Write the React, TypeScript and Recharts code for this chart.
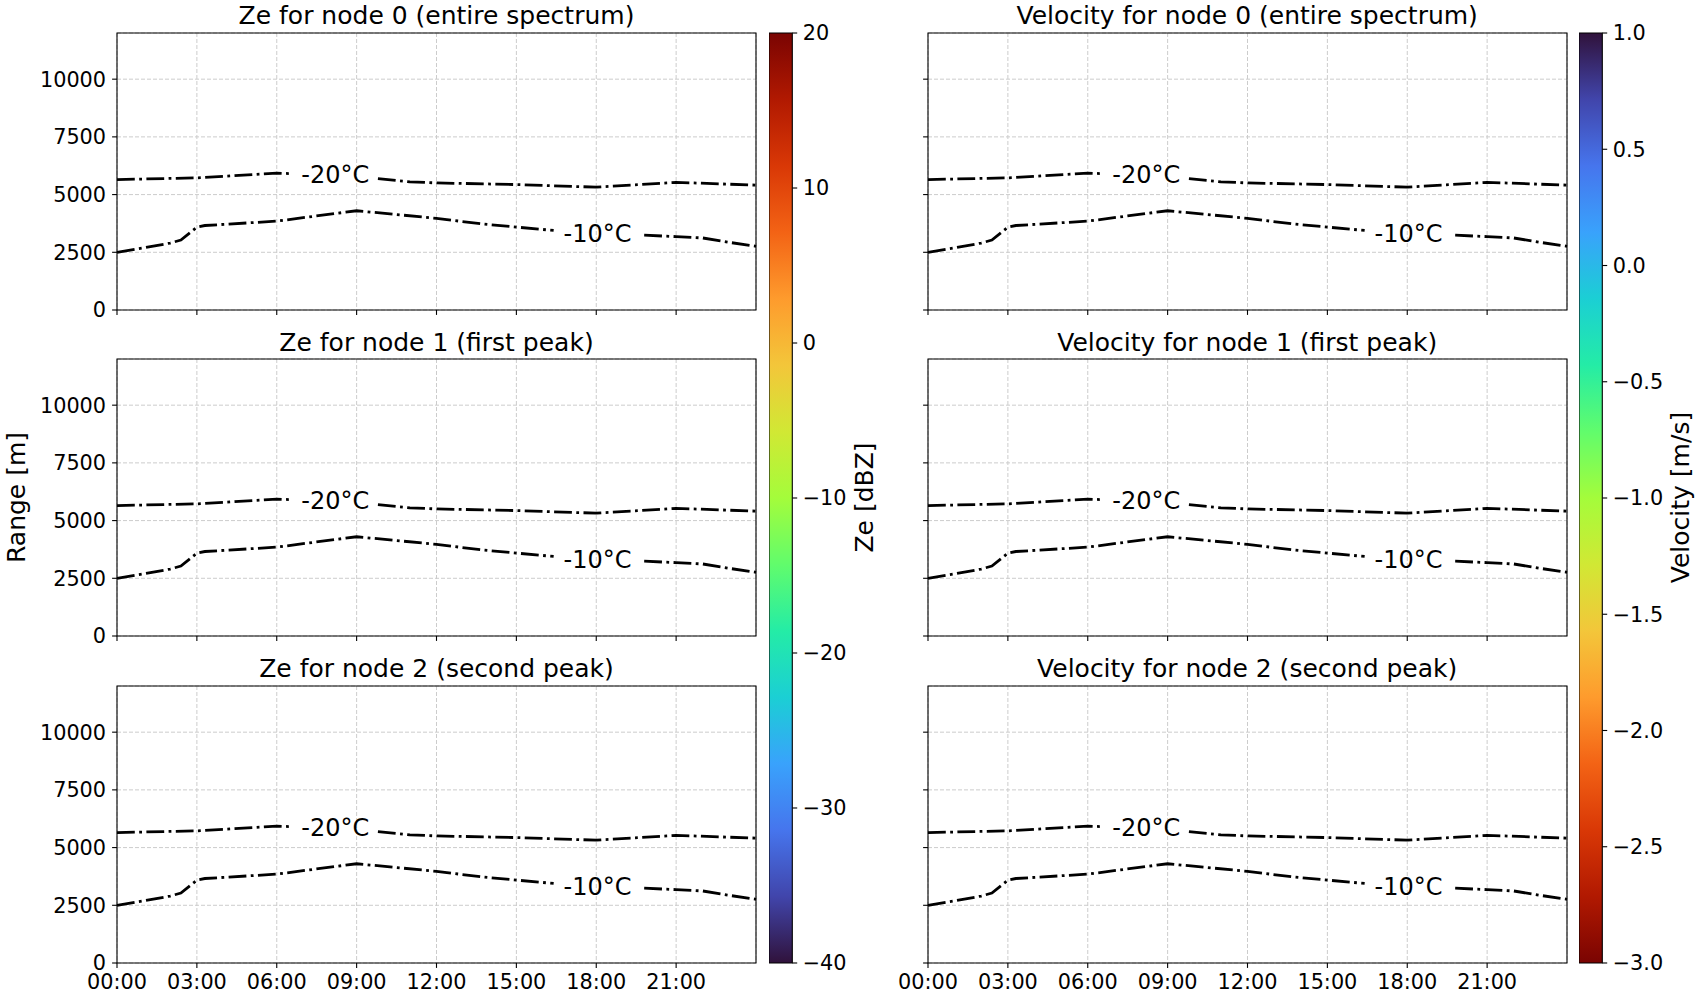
import React from 'react';
import { LineChart, Line, XAxis, YAxis, CartesianGrid, ReferenceArea, ReferenceDot, ComposedChart } from 'recharts';

const HOUR_TICKS = [0, 3, 6, 9, 12, 15, 18, 21];
const RANGE_TICKS = [0, 2500, 5000, 7500, 10000];
const ZE_TICKS = [-40, -30, -20, -10, 0, 10, 20];
const VEL_TICKS = [-3, -2.5, -2, -1.5, -1, -0.5, 0, 0.5, 1];

// -10°C isotherm (hours, metres); null leaves the gap for the inline label
const ISO10_T = [0, 1, 2, 2.4, 3, 3.3, 6, 9, 12, 13.7, 16.4, 18, 19.8, 21, 22, 23, 24];
const ISO10_H = [2500, 2690, 2900, 3030, 3590, 3660, 3850, 4300, 3970, 3730, 3445, null, 3240, 3180, 3120, 2930, 2760];

// -20°C isotherm
const ISO20_T = [0, 3, 6, 6.5, 8, 9.8, 11, 12, 15, 18, 21, 24];
const ISO20_H = [5650, 5725, 5930, 5910, null, 5690, 5550, 5505, 5435, 5320, 5530, 5410];

const ISO_LABEL_T = [8.2, 18.05];
const ISO_LABEL_H = [5870, 3333];
const ISO_LABEL_TEXT = ['-20°C', '-10°C'];

const ZE_TITLES = ['Ze for node 0 (entire spectrum)', 'Ze for node 1 (first peak)', 'Ze for node 2 (second peak)'];
const VEL_TITLES = ['Velocity for node 0 (entire spectrum)', 'Velocity for node 1 (first peak)', 'Velocity for node 2 (second peak)'];

const TURBO = ['#30123b', '#4145ab', '#4675ed', '#39a2fc', '#1bcfd4', '#24eca6', '#61fc6c', '#a4fc3b',
  '#d1e834', '#f3c63a', '#fe9b2d', '#f36315', '#d93806', '#b11901', '#7a0402'];

const iso10 = ISO10_T.map((t, i) => ({ t, h: ISO10_H[i] }));
const iso20 = ISO20_T.map((t, i) => ({ t, h: ISO20_H[i] }));

const FONT = 'DejaVu Sans, sans-serif';
const LEFT_X = 117;
const RIGHT_X = 927.7;
const PW = 639;
const PH = 277;
const ROW_Y = [32.5, 359, 685.5];
const MT = 5;
const MR = 5;
const XH = 45;
const TICK = { fill: '#000', fontSize: 20.8 };
const AXLINE = { stroke: '#000', strokeWidth: 1.1 };

const hhmm = (v: number) => `${String(v).padStart(2, '0')}:00`;
const blank = () => '';
const minus = (s: string) => s.replace('-', '\u2212');

const Panel = ({ x, y, showY, showX }: { x: number; y: number; showY: boolean; showX: boolean }) => {
  const yw = showY ? 117 : 50;
  return (
    <div style={{ position: 'absolute', left: x - yw, top: y - MT }}>
      <LineChart width={yw + PW + MR} height={MT + PH + XH} margin={{ top: MT, right: MR, bottom: 0, left: 0 }}>
        <CartesianGrid stroke="#cccccc" strokeDasharray="4 2" strokeWidth={1} />
        <XAxis
          type="number"
          dataKey="t"
          domain={[0, 24]}
          ticks={HOUR_TICKS}
          interval={0}
          height={XH}
          axisLine={false}
          tickLine={AXLINE}
          tickSize={4.9}
          tickMargin={6}
          tick={TICK}
          tickFormatter={showX ? hhmm : blank}
        />
        <YAxis
          type="number"
          domain={[0, 12000]}
          ticks={RANGE_TICKS}
          interval={0}
          width={yw}
          axisLine={false}
          tickLine={AXLINE}
          tickSize={4.9}
          tickMargin={6}
          tick={TICK}
          tickFormatter={showY ? undefined : blank}
        />
        <Line data={iso20} dataKey="h" type="linear" stroke="#000" strokeWidth={2.8}
          strokeDasharray="17.8 4.4 2.8 4.4" dot={false} isAnimationActive={false} connectNulls={false} />
        <Line data={iso10} dataKey="h" type="linear" stroke="#000" strokeWidth={2.8}
          strokeDasharray="17.8 4.4 2.8 4.4" dot={false} isAnimationActive={false} connectNulls={false} />
        {ISO_LABEL_T.map((t, i) => (
          <ReferenceDot key={i} x={t} y={ISO_LABEL_H[i]} r={0} fill="none" stroke="none"
            label={{ value: ISO_LABEL_TEXT[i], position: 'center', fontSize: 24, fill: '#000' }} />
        ))}
        <ReferenceArea x1={0} x2={24} y1={0} y2={12000} fill="none" stroke="#000" strokeWidth={1.1} />
      </LineChart>
    </div>
  );
};

const Colorbar = ({ x, id, stops, domain, ticks, fmt }: {
  x: number; id: string; stops: string[]; domain: [number, number]; ticks: number[]; fmt: (v: number) => string;
}) => {
  const w = 23.3;
  const pad = 20;
  const top = ROW_Y[0];
  const h = ROW_Y[2] + PH - top;
  const ends = domain.map((v, i) => ({ x: i, v }));
  return (
    <div style={{ position: 'absolute', left: x, top: top - pad }}>
      <ComposedChart data={ends} width={w + 80} height={h + 2 * pad}
        margin={{ top: pad, right: 0, bottom: pad, left: 0 }}>
        <defs>
          <linearGradient id={id} x1="0" y1="1" x2="0" y2="0">
            {stops.map((c, i) => (
              <stop key={i} offset={i / (stops.length - 1)} stopColor={c} />
            ))}
          </linearGradient>
        </defs>
        <XAxis type="number" dataKey="x" domain={[0, 1]} hide />
        <YAxis
          orientation="right"
          type="number"
          dataKey="v"
          domain={domain}
          ticks={ticks}
          interval={0}
          width={80}
          axisLine={false}
          tickLine={AXLINE}
          tickSize={4.9}
          tickMargin={5.5}
          tick={{ ...TICK, textAnchor: 'start' }}
          tickFormatter={fmt}
        />
        <ReferenceArea x1={0} x2={1} y1={domain[0]} y2={domain[1]} fill={`url(#${id})`} fillOpacity={1}
          stroke="#000" strokeWidth={1.1} />
      </ComposedChart>
    </div>
  );
};

export default function App() {
  return (
    <div style={{ position: 'absolute', left: 0, top: 0, width: 1700, height: 1000, background: '#fff', fontFamily: FONT }}>
      {ROW_Y.map((y, r) => (
        <React.Fragment key={r}>
          <Panel x={LEFT_X} y={y} showY={true} showX={r === 2} />
          <Panel x={RIGHT_X} y={y} showY={false} showX={r === 2} />
        </React.Fragment>
      ))}
      <Colorbar x={769.3} id="turboZe" stops={TURBO} domain={[-40, 20]} ticks={ZE_TICKS}
        fmt={(v) => minus(String(v))} />
      <Colorbar x={1579.3} id="turboVel" stops={[...TURBO].reverse()} domain={[-3, 1]} ticks={VEL_TICKS}
        fmt={(v) => minus(v.toFixed(1))} />
      <svg width={1700} height={1000} style={{ position: 'absolute', left: 0, top: 0, pointerEvents: 'none' }}
        fontFamily={FONT}>
        {ROW_Y.map((y, r) => (
          <React.Fragment key={r}>
            <text x={LEFT_X + PW / 2} y={y - 8.5} textAnchor="middle" fontSize={25}>{ZE_TITLES[r]}</text>
            <text x={RIGHT_X + PW / 2} y={y - 8.5} textAnchor="middle" fontSize={25}>{VEL_TITLES[r]}</text>
          </React.Fragment>
        ))}
        <text x={25} y={497.5} transform="rotate(-90 25 497.5)" textAnchor="middle" fontSize={25}>Range [m]</text>
        <text x={873} y={497.5} transform="rotate(-90 873 497.5)" textAnchor="middle" fontSize={25}>Ze [dBZ]</text>
        <text x={1689} y={497.5} transform="rotate(-90 1689 497.5)" textAnchor="middle" fontSize={25}>Velocity [m/s]</text>
      </svg>
    </div>
  );
}
